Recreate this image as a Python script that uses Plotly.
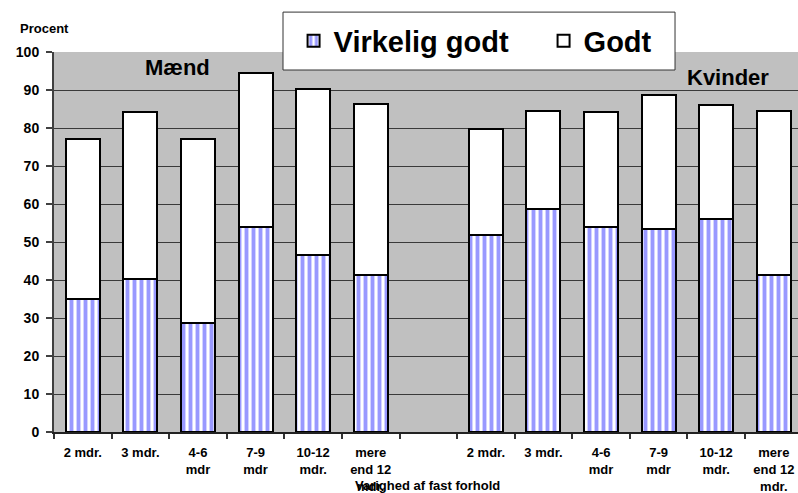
import plotly.graph_objects as go

# Category layout: six durations for men, an empty slot, six durations for women
labels_maend = ["2 mdr.", "3 mdr.", "4-6<br>mdr", "7-9<br>mdr", "10-12<br>mdr.", "mere<br>end 12<br>mdr."]
labels_kvinder = ["2 mdr.", "3 mdr.", "4-6<br>mdr", "7-9<br>mdr", "10-12<br>mdr.", "mere<br>end 12<br>mdr."]
pos_maend = [0, 1, 2, 3, 4, 5]
pos_kvinder = [7, 8, 9, 10, 11, 12]

# Percent answering "Virkelig godt" and "Godt"
virkelig_maend = [35.0, 40.2, 28.6, 54.0, 46.7, 41.3]
godt_maend = [42.2, 43.9, 48.6, 40.6, 43.6, 44.9]
virkelig_kvinder = [51.9, 58.7, 54.0, 53.4, 56.1, 41.3]
godt_kvinder = [27.9, 25.9, 30.1, 35.4, 30.0, 43.3]

y_ticks = [0, 10, 20, 30, 40, 50, 60, 70, 80, 90, 100]

x_pos = pos_maend + pos_kvinder
x_text = labels_maend + labels_kvinder
virkelig = virkelig_maend + virkelig_kvinder
godt = godt_maend + godt_kvinder

FONT = "Liberation Sans, Arial, sans-serif"

fig = go.Figure()
fig.add_trace(go.Bar(
    name="<b>Virkelig godt</b>",
    x=x_pos, y=virkelig,
    marker=dict(
        color="white",
        line=dict(color="black", width=2),
        pattern=dict(shape="|", fgcolor="#9999FF", bgcolor="white",
                     size=7, solidity=0.55, fillmode="replace", fgopacity=1),
    ),
))
fig.add_trace(go.Bar(
    name="<b>Godt</b>",
    x=x_pos, y=godt,
    marker=dict(color="white", line=dict(color="black", width=2)),
))

# Legend frame
fig.add_shape(type="rect", xref="paper", yref="paper",
              x0=0.3078, x1=0.8347, y0=0.9526, y1=1.105,
              fillcolor="white", line=dict(color="#333333", width=1),
              layer="above")

fig.update_layout(
    width=798, height=493,
    margin=dict(l=54, r=0, t=52, b=61),
    paper_bgcolor="white",
    plot_bgcolor="#C0C0C0",
    barmode="stack",
    bargap=0.41,
    font=dict(family=FONT, color="black"),
    legend=dict(
        orientation="h",
        x=0.322, xanchor="left",
        y=1.029, yanchor="middle",
        bgcolor="rgba(0,0,0,0)",
        borderwidth=0,
        font=dict(family=FONT, size=29, weight="bold", color="black"),
        entrywidth=205, entrywidthmode="pixels",
        traceorder="normal",
    ),
    xaxis=dict(
        range=[-0.5, 12.42],
        tickmode="array", tickvals=x_pos, ticktext=x_text,
        ticks="", ticklabelstandoff=8,
        tickfont=dict(family=FONT, size=13, weight="bold"),
        showgrid=False, zeroline=False,
        showline=True, linecolor="#222222", linewidth=1.5,
        minor=dict(tick0=0.5, dtick=1, ticks="outside", ticklen=5,
                   tickcolor="#333333", tickwidth=1.5, showgrid=False),
    ),
    yaxis=dict(
        range=[0, 100],
        tickmode="array", tickvals=y_ticks,
        ticks="outside", ticklen=6, tickcolor="#404040", tickwidth=1.5,
        ticklabelstandoff=4,
        tickfont=dict(family=FONT, size=14, weight="bold"),
        showgrid=True, gridcolor="#3a3a3a", gridwidth=1,
        zeroline=False,
        showline=True, linecolor="#404040", linewidth=2,
    ),
    annotations=[
        dict(text="Mænd", x=1.64, y=96.0, xref="x", yref="y",
             showarrow=False, xanchor="center", yanchor="middle",
             font=dict(family=FONT, size=22, weight="bold")),
        dict(text="Kvinder", x=11.2, y=93.4, xref="x", yref="y",
             showarrow=False, xanchor="center", yanchor="middle",
             font=dict(family=FONT, size=22, weight="bold")),
        dict(text="Procent", x=-0.0125, y=1.063, xref="paper", yref="paper",
             showarrow=False, xanchor="center", yanchor="middle",
             font=dict(family=FONT, size=13, weight="bold")),
        dict(text="Varighed af fast forhold", x=0.502, y=-0.1395,
             xref="paper", yref="paper",
             showarrow=False, xanchor="center", yanchor="middle",
             font=dict(family=FONT, size=13, weight="bold")),
    ],
)

fig.write_html("out.html")
